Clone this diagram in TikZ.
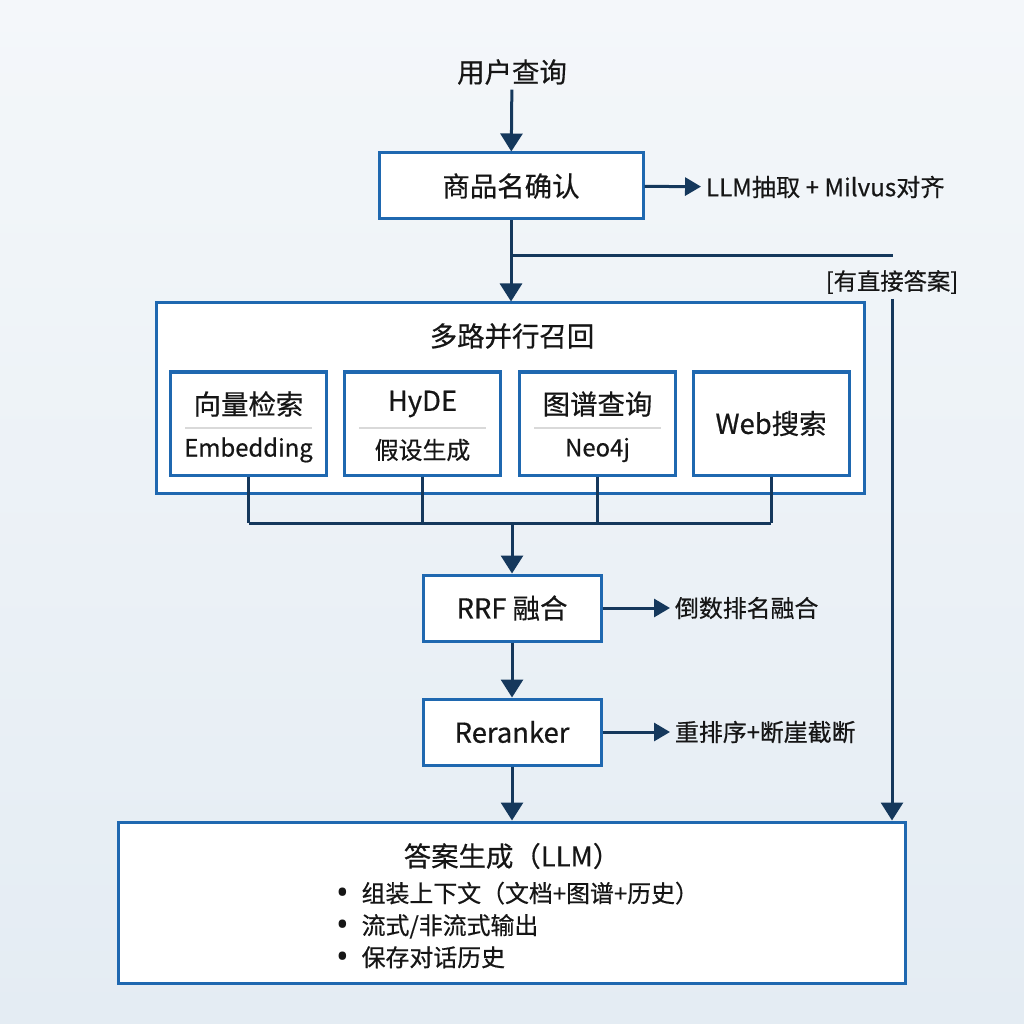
\documentclass[tikz,border=0pt]{standalone}
\usepackage{fontspec}
\setmainfont{Noto Sans CJK SC}[FakeBold=0.5]
\newfontfamily\dotfont{Noto Sans}
\usetikzlibrary{arrows.meta,positioning}

\definecolor{boxblue}{HTML}{1F68B0}
\definecolor{linenavy}{HTML}{15385C}
\definecolor{bgtop}{HTML}{F4F7FA}
\definecolor{bgbot}{HTML}{E4ECF3}
\definecolor{txt}{HTML}{161616}

\newcommand{\itemdot}{\smash{\raisebox{-0.5mm}{\dotfont\fontsize{24}{20}\selectfont\char"2022}}\hspace{3mm}}

\tikzset{
  stage/.style={draw=boxblue,line width=0.75mm,fill=white,text=txt,font=\fontsize{19.5}{23}\selectfont},
  big/.style={font=\fontsize{19.5}{23}\selectfont,text=txt},
  small/.style={font=\fontsize{17.2}{20}\selectfont,text=txt},
  sub/.style={font=\fontsize{17}{21}\selectfont,text=txt},
  link/.style={draw=linenavy,line width=0.75mm},
  flow/.style={link,-{Triangle[length=4.5mm,width=5.5mm]}},
  side/.style={link,-{Triangle[length=4mm,width=4.5mm]}}
}

\begin{document}
\begin{tikzpicture}[x=0.25mm,y=-0.25mm]
    \shade[top color=bgtop,bottom color=bgbot] (0,0) rectangle (1024,1024);
    \useasboundingbox (0,0) rectangle (1024,1024);

    \node[big] (query) at (512,72) {用户查询};
    \node[stage,minimum width=66mm,minimum height=16.5mm] (confirm) at (511,186) {商品名确认};
    \node[small,anchor=west] (extract) at (701,187) {LLM抽取 + Milvus对齐};

    \coordinate (branch) at (512,256);
    \coordinate (corner) at (893,256);
    \node[small,font=\fontsize{16.6}{20}\selectfont] (direct) at (892,282) {[有直接答案]};

    % recall block
    \node[stage,minimum width=176.75mm,minimum height=47.5mm] (recall) at (510.5,398) {};
    \node[big] (recalltitle) at (512,336) {多路并行召回};

    \node[stage,minimum width=39mm,minimum height=25.75mm] (vec) at (248.5,423.5) {};
    \node[stage,minimum width=39mm,minimum height=25.75mm] (hyde) at (422.5,423.5) {};
    \node[stage,minimum width=39mm,minimum height=25.75mm] (graph) at (597.5,423.5) {};
    \node[stage,minimum width=39mm,minimum height=25.75mm] (web) at (771,423.5) {Web搜索};

    \node[big] (vectitle) at (248.5,404) {向量检索};
    \node[big] (hydetitle) at (422.5,404) {HyDE};
    \node[big] (graphtitle) at (597.5,404) {图谱查询};
    \node[sub] (vecsub) at (248.5,450) {Embedding};
    \node[sub] (hydesub) at (422.5,450) {假设生成};
    \node[sub] (graphsub) at (597.5,450) {Neo4j};

    \foreach \n in {vec,hyde,graph}
    \draw[black!15,line width=0.4mm] ([xshift=4mm]\n.west |- 0,428) -- ([xshift=-4mm]\n.east |- 0,428);

    \coordinate (merge) at (512,523);

    \node[stage,minimum width=44.5mm,minimum height=16.5mm] (rrf) at (512,608) {RRF 融合};
    \node[sub,anchor=west] (fusenote) at (670,608) {倒数排名融合};
    \node[stage,minimum width=44.5mm,minimum height=16.5mm] (rerank) at (512,732) {Reranker};
    \node[sub,anchor=west] (ranknote) at (670,732) {重排序+断崖截断};

    % answer block
    \node[stage,minimum width=196.5mm,minimum height=40.25mm] (answer) at (512,902.5) {};
    \node[big] (answertitle) at (512,856) {答案生成（LLM）};
    \node[sub,anchor=west,align=left,font=\fontsize{17}{22.8}\selectfont] (steps) at (332,925)
      {\itemdot 组装上下文（文档+图谱+历史）\\\itemdot 流式/非流式输出\\\itemdot 保存对话历史};

    \draw[flow] (query) -- (confirm);
    \draw[side] (confirm) -- (extract);
    \draw[flow] (confirm.south) -- (confirm.south |- recall.north);
    \draw[link] (branch) -- (corner);
    \draw[flow] (direct.south) -- (direct.south |- answer.north);

    \foreach \n in {vec,hyde,graph,web}
    \draw[link] (\n.south) -- (\n.south |- merge);
    \draw[link] (vec.south |- merge) -- (web.south |- merge);

    \draw[flow] (merge) -- (rrf);
    \draw[side] (rrf) -- (fusenote);
    \draw[flow] (rrf) -- (rerank);
    \draw[side] (rerank) -- (ranknote);
    \draw[flow] (rerank) -- (answer.north -| rerank.south);
  \end{tikzpicture}
\end{document}
